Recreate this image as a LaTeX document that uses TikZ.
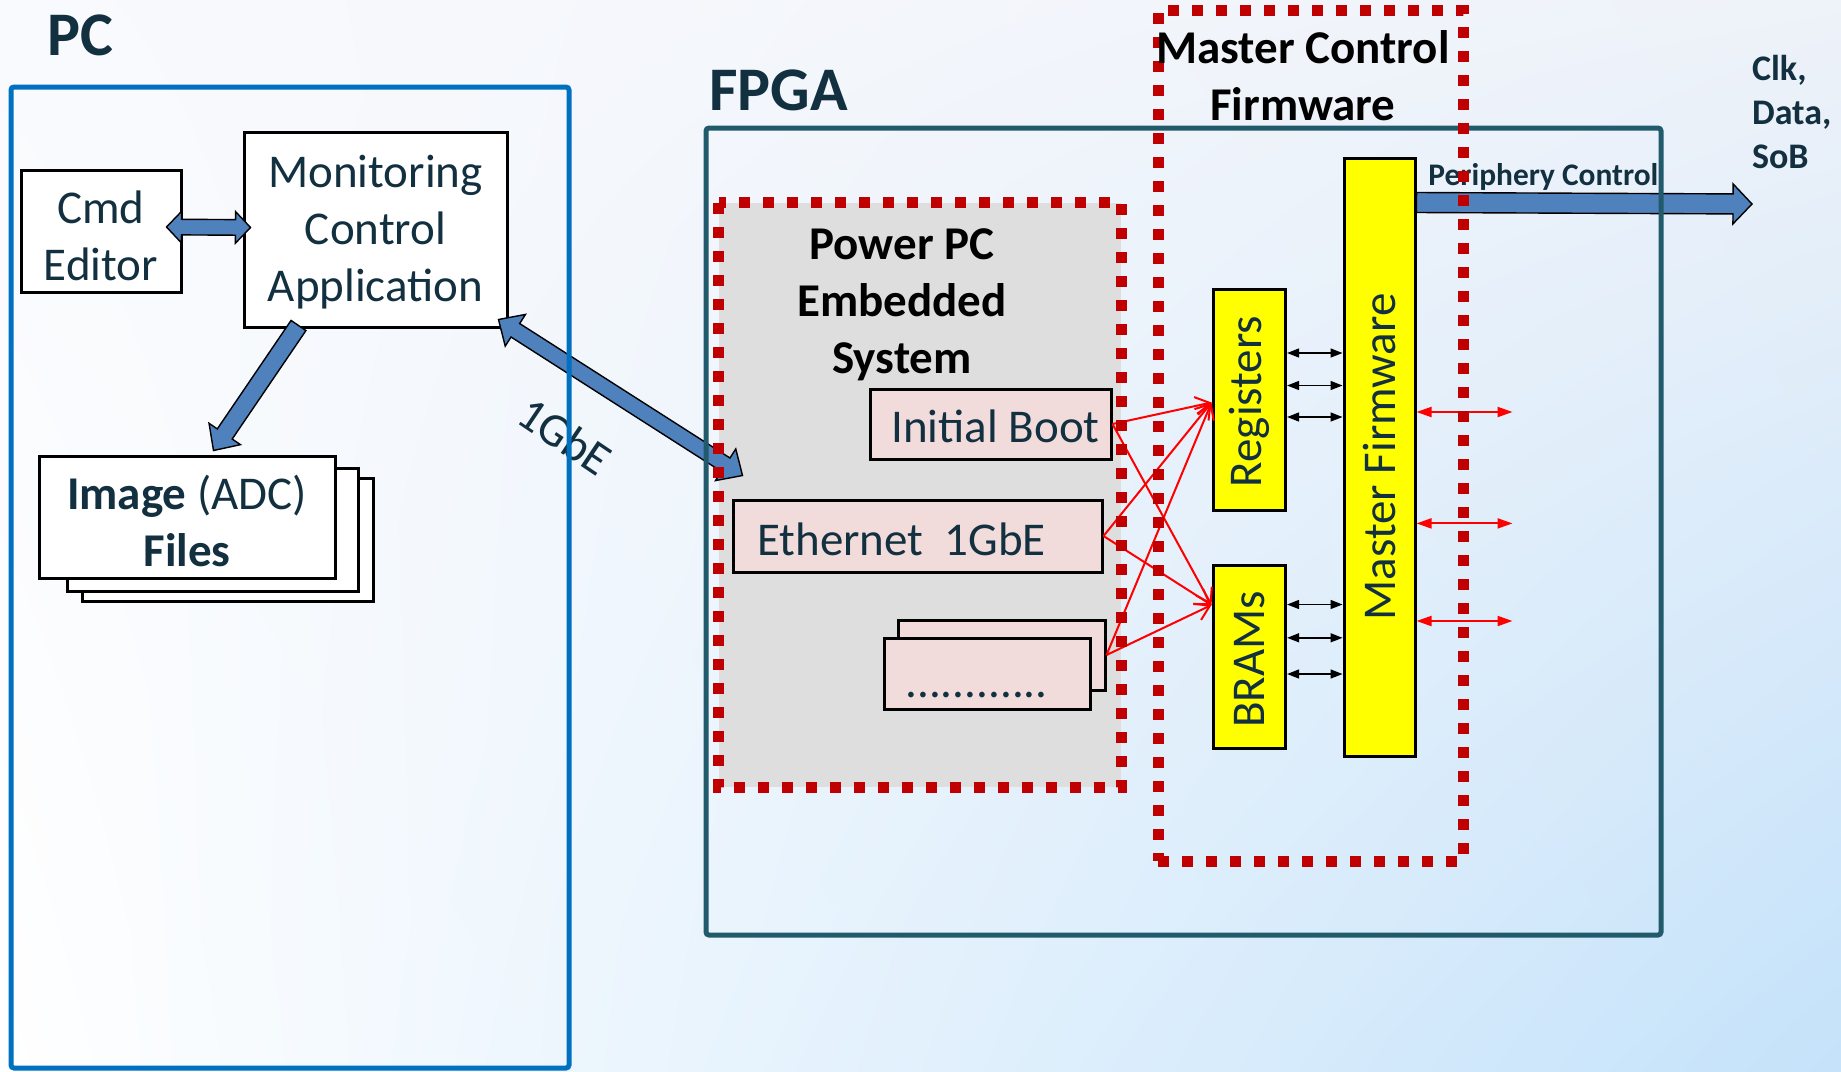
\documentclass[tikz,border=0pt]{standalone}
\usepackage{fontspec}
\setmainfont{Carlito}
\usetikzlibrary{calc,fit,arrows.meta,shadings}

\definecolor{ink}{HTML}{12303F}
\definecolor{pcblue}{HTML}{0070C0}
\definecolor{fpgateal}{HTML}{215A6A}
\definecolor{dotred}{HTML}{C00000}
\definecolor{arrowblue}{HTML}{4F81BD}
\definecolor{ppcgray}{HTML}{DEDEDE}
\definecolor{softpink}{HTML}{F2DCDB}
\definecolor{fwyellow}{HTML}{FFFF00}
\definecolor{bgul}{HTML}{F9FAFD}
\definecolor{bgur}{HTML}{EEF2F9}
\definecolor{bgll}{HTML}{FFFFFF}
\definecolor{bglr}{HTML}{C4E2FA}

% one drawing unit (the x and y step of the picture)
\newcommand{\un}{0.5pt}

% wide block arrow with one head (from #1 to #2)
% #3 half shaft width, #4 half head width, #5 head length
\newcommand{\singleblockarrow}[5]{%
  \coordinate (bahead) at ($(#2)!#5!(#1)$);
  \draw[blockarrow] ($(#1)!#3!90:(#2)$) -- ($(bahead)!#3!90:(#2)$)
    -- ($(bahead)!#4!90:(#2)$) -- (#2) -- ($(bahead)!#4!-90:(#2)$)
    -- ($(bahead)!#3!-90:(#2)$) -- ($(#1)!#3!-90:(#2)$) -- cycle;}

% wide block arrow with a head at both ends
\newcommand{\doubleblockarrow}[5]{%
  \coordinate (bahead) at ($(#2)!#5!(#1)$);
  \coordinate (batail) at ($(#1)!#5!(#2)$);
  \draw[blockarrow] (#1) -- ($(batail)!#4!90:(#2)$) -- ($(batail)!#3!90:(#2)$)
    -- ($(bahead)!#3!90:(#2)$) -- ($(bahead)!#4!90:(#2)$) -- (#2)
    -- ($(bahead)!#4!-90:(#2)$) -- ($(bahead)!#3!-90:(#2)$)
    -- ($(batail)!#3!-90:(#2)$) -- ($(batail)!#4!-90:(#2)$) -- cycle;}

\begin{document}
\begin{tikzpicture}[x=\un,y=-\un,
  size/.style 2 args={minimum width=#1*\un, minimum height=#2*\un},
  box/.style={draw=black, line width=1.5pt, inner sep=0pt, text=ink,
    font=\fontsize{23.5}{28.5}\selectfont},
  whitebox/.style={box, fill=white},
  pinkbox/.style={box, fill=softpink},
  yellowbox/.style={box, fill=fwyellow},
  boxtext/.style={text=ink, align=center, inner sep=0pt,
    font=\fontsize{23.5}{28.5}\selectfont},
  vlabel/.style={rotate=90, text=ink, font=\fontsize{23.5}{28.5}\selectfont},
  heading/.style={text=black, align=center, font=\fontsize{23.5}{28.5}\selectfont\bfseries},
  bigtitle/.style={text=ink, anchor=base west, font=\fontsize{31}{37}\selectfont\bfseries},
  sidetext/.style={text=ink, anchor=base west, font=\fontsize{18}{22}\selectfont\bfseries},
  blockarrow/.style={fill=arrowblue, draw=black, line width=0.7pt, line join=miter},
  reddots/.style={draw=dotred, line width=5.5pt, dash pattern=on 5.5pt off 6.5pt},
  frame/.style={line width=2.5pt, inner sep=0pt, rounded corners=1.5pt},
  regarrow/.style={line width=0.75pt,
    {Triangle[length=6pt,width=4.5pt]}-{Triangle[length=6pt,width=4.5pt]}},
  redlink/.style={draw=red, line width=1pt, -{Straight Barb[length=7pt,width=9pt]}},
  redio/.style={draw=red, line width=1pt,
    {Triangle[length=7.5pt,width=5pt]}-{Triangle[length=7.5pt,width=5pt]}}
]
\useasboundingbox (0,0) rectangle (1841,1071);
\shade[upper left=bgul, upper right=bgur, lower left=bgll, lower right=bglr]
  (0,0) rectangle (1841,1071);

% ---------------- PC side ----------------
\node[whitebox, size={160}{122}] (cmd) at (101,231) {};
\node[boxtext] (cmdtxt) at ($(cmd.center)+(0,5)$) {Cmd\\Editor};
\node[whitebox, size={263}{195}] (mon) at (375.5,229.5) {};
\node[boxtext] (montxt) at ($(mon.center)+(0,3)$) {Monitoring\\Control\\Application};
\node[whitebox, size={291}{123}] (img3) at (227.5,539.5) {};
\node[whitebox, size={291}{123}] (img2) at (212.5,529.5) {};
\node[whitebox, size={296}{122}] (img1) at (187,517) {};
\node[boxtext] (imgtxt) at ($(img1.center)+(0,4)$) {\textbf{Image} (ADC)\\\textbf{Files}};

% ---------------- Power PC embedded system ----------------
\node[fill=ppcgray, inner sep=0pt, size={402}{584}] (ppc) at (920,495) {};
\node[heading] (ppctitle) at (902,305) {Power PC\\Embedded\\System};
\node[pinkbox, size={241}{70}] (ib) at (990.5,424) {};
\node[boxtext] (ibtxt) at ($(ib.center)+(5,2)$) {Initial Boot};
\node[pinkbox, size={369}{72}] (eth) at (917.5,536) {};
\node[boxtext] (ethtxt) at ($(eth.center)+(-16,3)$) {Ethernet\ \ 1GbE};
\node[pinkbox, size={207}{70}] (dots2) at (1001.5,655) {};
\node[pinkbox, size={206}{71}] (dots1) at (987,673.5) {};
\node[anchor=base west, text=ink, inner sep=0pt, font=\fontsize{23.5}{28.5}\selectfont]
  (dotstxt) at (905,697) {............};

% ---------------- Master control firmware ----------------
\node[yellowbox, size={72.6}{221}] (reg) at (1249.3,399.5) {};
\node[vlabel] (regtxt) at ($(reg.center)+(0,2)$) {Registers};
\node[yellowbox, size={72.6}{183}] (bram) at (1249.3,656.5) {};
\node[vlabel] (bramtxt) at ($(bram.center)+(0,3)$) {BRAMs};
\node[yellowbox, size={71}{598}] (mf) at (1379.5,457) {};
\node[vlabel] (mftxt) at (mf.center) {Master Firmware};

% ---------------- block arrows ----------------
\coordinate (cmdR) at ($(cmd.east)+(-16,-4)$);
\coordinate (monL) at ($(mon.west)+(8,-2)$);
\doubleblockarrow{cmdR}{monL}{3.9pt}{7.9pt}{7.5pt}

\coordinate (monB) at ($(mon.south west)+(56,-3)$);
\coordinate (imgT) at ($(img1.north west)+(176,-4)$);
\singleblockarrow{monB}{imgT}{4.5pt}{9.5pt}{10pt}

\coordinate (monC) at ($(mon.south east)+(-10,-9)$);
\coordinate (ethC) at ($(eth.north west)+(11,-23)$);
\doubleblockarrow{monC}{ethC}{4pt}{9.4pt}{10pt}
\node[rotate=-34, text=ink, font=\fontsize{23.5}{28.5}\selectfont] (gbe) at (565,436) {1GbE};

\coordinate (mfR) at ($(mf.north east)+(0,46)$);
\coordinate (clkout) at (1752,204);
\singleblockarrow{mfR}{clkout}{5pt}{10pt}{9.5pt}
\node[anchor=base west, text=ink, inner sep=0pt, font=\fontsize{15.7}{19}\selectfont\bfseries]
  (periph) at (1428,185) {Periphery Control};

% ---------------- thin links ----------------
\coordinate (regin) at ($(reg.west)+(0,3)$);
\coordinate (bramin) at ($(bram.west)+(0,-51.5)$);
\foreach \src in {ib, eth, dots2} {
  \draw[redlink] (\src.east) -- (regin);
  \draw[redlink] (\src.east) -- (bramin);
}
\foreach \dy in {-46.5, -14, 17.5} {
  \draw[regarrow] ($(reg.east)+(0,\dy)$) -- ($(mf.west |- reg.east)+(0,\dy)$);
}
\foreach \dy in {-52, -18.7, 17.5} {
  \draw[regarrow] ($(bram.east)+(0,\dy)$) -- ($(mf.west |- bram.east)+(0,\dy)$);
}
\coordinate (io1) at ($(mf.east)+(96,-45)$);
\coordinate (io2) at ($(mf.east)+(96,66.4)$);
\coordinate (io3) at ($(mf.east)+(96,164)$);
\draw[redio] ($(mf.east)+(0,-45)$) -- (io1);
\draw[redio] ($(mf.east)+(0,66.4)$) -- (io2);
\draw[redio] ($(mf.east)+(0,164)$) -- (io3);

% ---------------- containers ----------------
\node[frame, draw=pcblue, fit={(11,87) (569,1068)}] (pc) {};
\node[frame, draw=fpgateal, fit={(706,128) (1661,935)}] (fpga) {};
\draw[reddots] (ppc.north west) rectangle (ppc.south east);
\node[reddots, inner sep=0pt, fit={(1158,10) (1463,861)}] (mcf) {};

% ---------------- titles ----------------
\node[bigtitle] (pctitle) at (40,55) {PC};
\node[bigtitle] (fpgatitle) at (702,110) {FPGA};
\node[heading] (mctitle) at (1303,76) {Master Control\\Firmware};
\node[sidetext] (clk) at (1745,80) {Clk,};
\node[sidetext] (data) at (1745,124) {Data,};
\node[sidetext] (sob) at (1745,168) {SoB};
\end{tikzpicture}
\end{document}
